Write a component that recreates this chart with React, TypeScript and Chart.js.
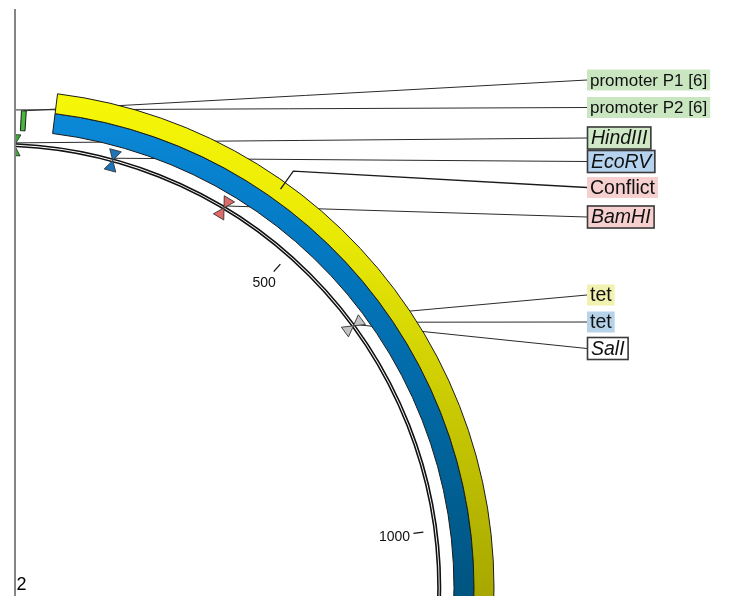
import { useEffect, useRef } from "react";
import { Chart, registerables } from "chart.js";

Chart.register(...registerables);

// ---------------- data ----------------
const plasmidName = "pBR322";
const sequenceLength = 4361;
const rulerTicks = [0, 500, 1000, 1500, 2000, 2500, 3000, 3500, 4000];

// outer feature ring
const outerFeatureNames = ["tet"];
const outerFeatureStarts = [86];
const outerFeatureEnds = [1276];

// inner feature ring
const innerFeatureNames = ["promoter P1", "tet", "promoter P2"];
const innerFeatureStarts = [37, 86, 4345];
const innerFeatureEnds = [44, 1276, 4361];

// restriction sites
const siteNames = ["HindIII", "EcoRV", "BamHI", "SalI"];
const sitePositions = [29, 185, 375, 651];

// labels (text, anchor position in bp, anchor kind)
const labelTexts = ["promoter P1 [6]", "promoter P2 [6]", "HindIII", "EcoRV", "Conflict", "BamHI", "tet", "tet", "SalI"];
const labelAnchorBp = [40.5, 4353, 29, 185, 430, 375, 681, 681, 651];
const labelAnchorKind = ["inner", "inner", "site", "site", "conflict", "site", "outer", "inner", "site"];

// ---------------- layout / style ----------------
const PAGE_CX = -4;
const PAGE_CY = 588;
const HALF = 760;
const SIZE = HALF * 2;
const R_OUT = 498;
const RING_WEIGHTS = [20, 20, 13.5, 2.5];
const LABEL_X = 587;
const labelCenterY = [80, 107.5, 138, 161.5, 187.5, 217, 295, 322, 348.5];
const labelFontSize = [17, 17, 19.5, 19.5, 19.5, 19.5, 19.5, 19.5, 19.5];
const labelBg = ["#c9e6c1", "#c9e6c1", "#cfe9c6", "#b5d2ee", "#f6cfcf", "#f6cfcf", "#f2f2b0", "#b7d3ea", "#ffffff"];
const labelBorder = [false, false, true, true, false, true, false, false, true];
const labelItalic = [false, false, true, true, false, true, false, false, true];
const innerFeatureStyle = ["promoter", "tet", "promoter"];
const siteFill = ["#3aaa35", "#1f74b8", "#e06a6a", "#c4c4c4"];
const FONT = '"Liberation Sans", Arial, sans-serif';

const toCanvasX = (x: number) => x - PAGE_CX + HALF;
const toCanvasY = (y: number) => y - PAGE_CY + HALF;

function buildRing(starts: number[], ends: number[]) {
  const values: number[] = [];
  const owner: number[] = [];
  let pos = 0;
  starts.forEach((s, i) => {
    if (s > pos) {
      values.push(s - pos);
      owner.push(-1);
    }
    values.push(ends[i] - s);
    owner.push(i);
    pos = ends[i];
  });
  if (pos < sequenceLength) {
    values.push(sequenceLength - pos);
    owner.push(-1);
  }
  return { values, owner };
}

const outerRing = buildRing(outerFeatureStarts, outerFeatureEnds);
const innerRing = buildRing(innerFeatureStarts, innerFeatureEnds);

const gradCache = new WeakMap<any, { yellow: CanvasGradient; blue: CanvasGradient }>();
function grads(chart: any) {
  let g = gradCache.get(chart);
  if (!g) {
    const ctx = chart.ctx as CanvasRenderingContext2D;
    const y0 = toCanvasY(90);
    const y1 = toCanvasY(600);
    const yellow = ctx.createLinearGradient(0, y0, 0, y1);
    yellow.addColorStop(0, "#f7f708");
    yellow.addColorStop(0.3, "#e8e806");
    yellow.addColorStop(1, "#a6a600");
    const blue = ctx.createLinearGradient(0, y0, 0, y1);
    blue.addColorStop(0, "#0c8cdc");
    blue.addColorStop(0.3, "#0479c2");
    blue.addColorStop(1, "#00547f");
    g = { yellow, blue };
    gradCache.set(chart, g);
  }
  return g;
}

const TRANSPARENT = "rgba(0,0,0,0)";

function geometry(chart: any) {
  const outerArc = chart.getDatasetMeta(0).data[0];
  const innerArc = chart.getDatasetMeta(1).data[0];
  const backArc = chart.getDatasetMeta(3).data[0];
  const cx = backArc.x, cy = backArc.y;
  const ang = (bp: number) => -Math.PI / 2 + (bp / sequenceLength) * Math.PI * 2;
  const pt = (bp: number, r: number) => [cx + r * Math.cos(ang(bp)), cy + r * Math.sin(ang(bp))];
  return {
    cx,
    cy,
    ang,
    pt,
    outerR: outerArc.outerRadius,
    innerR: innerArc.outerRadius,
    siteR: backArc.outerRadius + 1,
    siteMid: (backArc.outerRadius + backArc.innerRadius) / 2,
    backInner: backArc.innerRadius,
  };
}

const mapPlugin = {
  id: "plasmidMap",
  beforeDatasetsDraw(chart: any) {
    const ctx = chart.ctx as CanvasRenderingContext2D;
    const geo = geometry(chart);
    ctx.save();
    ctx.strokeStyle = "#2a2a2a";
    ctx.lineWidth = 1;
    labelTexts.forEach((_, i) => {
      const kind = labelAnchorKind[i];
      if (kind === "conflict") return;
      const r = kind === "outer" ? geo.outerR : kind === "inner" ? geo.innerR : geo.siteR;
      const p = geo.pt(labelAnchorBp[i], r);
      ctx.beginPath();
      ctx.moveTo(p[0], p[1]);
      ctx.lineTo(toCanvasX(LABEL_X), toCanvasY(labelCenterY[i]));
      ctx.stroke();
    });
    ctx.restore();
  },
  afterDatasetsDraw(chart: any) {
    const ctx = chart.ctx as CanvasRenderingContext2D;
    const geo = geometry(chart);
    ctx.save();

    // conflict knee leader
    labelTexts.forEach((_, i) => {
      if (labelAnchorKind[i] !== "conflict") return;
      const a = geo.pt(labelAnchorBp[i], geo.outerR - 8);
      const k = geo.pt(labelAnchorBp[i], geo.outerR + 14);
      ctx.strokeStyle = "#1a1a1a";
      ctx.lineWidth = 1.3;
      ctx.beginPath();
      ctx.moveTo(a[0], a[1]);
      ctx.lineTo(k[0], k[1]);
      ctx.lineTo(toCanvasX(LABEL_X), toCanvasY(labelCenterY[i]));
      ctx.stroke();
    });

    // restriction sites (bowties)
    sitePositions.forEach((bp, i) => {
      const ang = geo.ang(bp);
      const ux = Math.cos(ang), uy = Math.sin(ang);
      const tx = -uy, ty = ux;
      const r0 = geo.siteMid;
      const tip = [geo.cx + r0 * ux, geo.cy + r0 * uy];
      ctx.fillStyle = siteFill[i];
      ctx.strokeStyle = "#333";
      ctx.lineWidth = 0.9;
      [10.5, -10.5].forEach((h) => {
        const bx = geo.cx + (r0 + h) * ux, by = geo.cy + (r0 + h) * uy;
        ctx.beginPath();
        ctx.moveTo(tip[0], tip[1]);
        ctx.lineTo(bx + 6 * tx, by + 6 * ty);
        ctx.lineTo(bx - 6 * tx, by - 6 * ty);
        ctx.closePath();
        ctx.fill();
        ctx.stroke();
      });
    });

    // ruler ticks
    ctx.strokeStyle = "#111";
    ctx.fillStyle = "#111";
    ctx.lineWidth = 1.3;
    ctx.font = `14px ${FONT}`;
    ctx.textAlign = "center";
    ctx.textBaseline = "alphabetic";
    rulerTicks.forEach((v) => {
      if (v === 0) return;
      const ang = geo.ang(v);
      const ux = Math.cos(ang), uy = Math.sin(ang);
      const r1 = geo.backInner - 21, r2 = geo.backInner - 11;
      ctx.beginPath();
      ctx.moveTo(geo.cx + r1 * ux, geo.cy + r1 * uy);
      ctx.lineTo(geo.cx + r2 * ux, geo.cy + r2 * uy);
      ctx.stroke();
      const text = String(v);
      const m = ctx.measureText(text);
      const asc = m.actualBoundingBoxAscent, desc = m.actualBoundingBoxDescent;
      const w = m.width, h = asc + desc;
      const ext = (w / 2) * Math.abs(ux) + (h / 2) * Math.abs(uy);
      const rc = geo.backInner - 24 - ext;
      const lx = geo.cx + rc * ux, ly = geo.cy + rc * uy;
      ctx.fillText(text, lx, ly + (asc - desc) / 2);
    });

    // plasmid name at centre
    ctx.font = `18px ${FONT}`;
    ctx.fillStyle = "#000";
    ctx.textAlign = "center";
    ctx.fillText(plasmidName, geo.cx - 2, geo.cy + 2);

    // labels
    ctx.textAlign = "left";
    ctx.textBaseline = "middle";
    labelTexts.forEach((t, i) => {
      ctx.font = `${labelItalic[i] ? "italic " : ""}${labelFontSize[i]}px ${FONT}`;
      const w = ctx.measureText(t).width;
      const pad = labelBorder[i] ? 4 : 3;
      const x = toCanvasX(LABEL_X);
      const yc = toCanvasY(labelCenterY[i]);
      const h = labelBorder[i] ? 23 : 21;
      ctx.fillStyle = labelBg[i];
      ctx.fillRect(x, yc - h / 2, w + pad * 2, h);
      if (labelBorder[i]) {
        ctx.strokeStyle = "#3a3a3a";
        ctx.lineWidth = 1.6;
        ctx.strokeRect(x + 0.5, yc - h / 2 + 0.5, w + pad * 2 - 1, h - 1);
      }
      ctx.fillStyle = "#111";
      ctx.fillText(t, x + pad, yc + 1);
    });
    ctx.restore();
  },
};

export default function App() {
  const ref = useRef<HTMLCanvasElement>(null);
  useEffect(() => {
    if (!ref.current) return;
    const totalWeight = RING_WEIGHTS.reduce((a, b) => a + b, 0);
    const chart = new Chart(ref.current, {
      type: "doughnut",
      data: {
        labels: [],
        datasets: [
          {
            label: outerFeatureNames.join(","),
            data: outerRing.values,
            weight: RING_WEIGHTS[0],
            backgroundColor: (c: any) => (outerRing.owner[c.dataIndex] >= 0 ? grads(c.chart).yellow : TRANSPARENT),
            borderColor: "#1b1b1b",
            borderWidth: (c: any) => (outerRing.owner[c.dataIndex] >= 0 ? 1 : 0),
          },
          {
            label: innerFeatureNames.join(","),
            data: innerRing.values,
            weight: RING_WEIGHTS[1],
            backgroundColor: (c: any) => {
              const o = innerRing.owner[c.dataIndex];
              if (o < 0) return TRANSPARENT;
              return innerFeatureStyle[o] === "tet" ? grads(c.chart).blue : "#47b83c";
            },
            borderColor: "#1b1b1b",
            borderWidth: (c: any) => (innerRing.owner[c.dataIndex] >= 0 ? 1 : 0),
          },
          {
            label: "spacer",
            data: [sequenceLength],
            weight: RING_WEIGHTS[2],
            backgroundColor: TRANSPARENT,
            borderWidth: 0,
          },
          {
            label: "backbone",
            data: [sequenceLength],
            weight: RING_WEIGHTS[3],
            backgroundColor: "#ffffff",
            borderColor: "#111111",
            borderWidth: 1.6,
          },
        ] as any,
      },
      options: {
        responsive: false,
        animation: false,
        devicePixelRatio: 1,
        events: [],
        radius: R_OUT,
        cutout: `${((R_OUT - totalWeight) / R_OUT) * 100}%`,
        rotation: 0,
        circumference: 360,
        layout: { padding: 0 },
        plugins: { legend: { display: false }, tooltip: { enabled: false }, title: { display: false } },
      } as any,
      plugins: [mapPlugin],
    });
    return () => chart.destroy();
  }, []);

  return (
    <div style={{ position: "fixed", left: 0, top: 0, width: 755, height: 596, background: "#fff", overflow: "hidden" }}>
      <div style={{ position: "absolute", left: 15, top: 0, width: 740, height: 596, overflow: "hidden" }}>
        <canvas
          ref={ref}
          width={SIZE}
          height={SIZE}
          style={{ position: "absolute", left: PAGE_CX - HALF - 15, top: PAGE_CY - HALF, width: SIZE, height: SIZE }}
        />
      </div>
      <div style={{ position: "absolute", left: 14, top: 9, width: 2, height: 587, background: "#858585" }} />
    </div>
  );
}
